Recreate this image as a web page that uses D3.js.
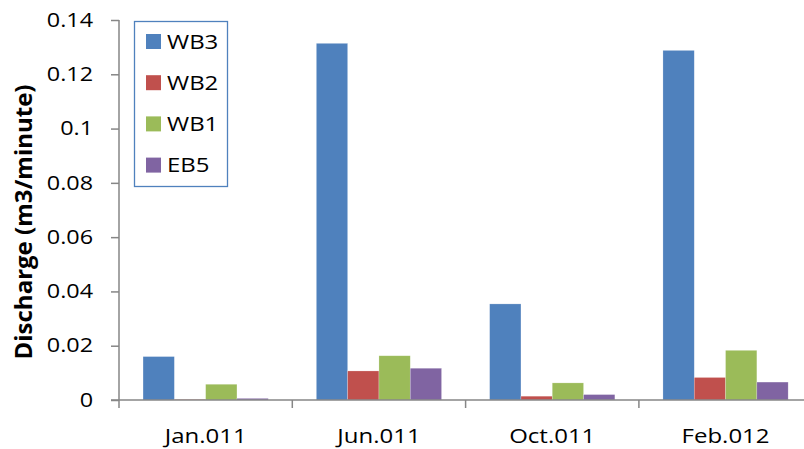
<!DOCTYPE html>
<html>
<head>
<meta charset="utf-8">
<script src="https://cdnjs.cloudflare.com/ajax/libs/d3/7.8.5/d3.min.js"></script>
<style>
  html, body { margin: 0; padding: 0; background: #fff; }
  svg { display: block; }
</style>
</head>
<body>
<div id="chart"></div>
<script>
const categories = ["Jan.011", "Jun.011", "Oct.011", "Feb.012"];
const seriesNames = ["WB3", "WB2", "WB1", "EB5"];
const WB3 = [0.0160, 0.1314, 0.0354, 0.1288];
const WB2 = [0.0002, 0.0107, 0.0014, 0.0083];
const WB1 = [0.0058, 0.0163, 0.0063, 0.0183];
const EB5 = [0.0006, 0.0117, 0.0020, 0.0066];
const seriesValues = [WB3, WB2, WB1, EB5];
const colors = ["#4F81BD", "#C0504D", "#9BBB59", "#8064A2"];
const yTicks = [0, 0.02, 0.04, 0.06, 0.08, 0.1, 0.12, 0.14];
const yTitle = "Discharge (m3/minute)";

const W = 804, H = 449;
const svg = d3.select("#chart").append("svg").attr("width", W).attr("height", H);
const font = "'Open Sans', 'Liberation Sans', sans-serif";
const SX = 1.2;      // horizontal stretch of the text in the original picture
const FS = 19.5;

const x0 = 119, y0 = 400, yTop = 20;
const catW = 173.3;
const x = d3.scaleBand().domain(categories).range([x0, x0 + catW * categories.length]).paddingInner(0).paddingOuter(0);
const y = d3.scaleLinear().domain([0, 0.14]).range([y0, yTop]);

// bars
const barW = 31.3;
const sidePad = (x.bandwidth() - barW * 4) / 2;
const g = svg.append("g");
categories.forEach((c, ci) => {
  seriesNames.forEach((s, si) => {
    const v = seriesValues[si][ci];
    g.append("rect")
      .attr("x", x(c) + sidePad + si * barW)
      .attr("y", y(v))
      .attr("width", barW)
      .attr("height", y0 - y(v))
      .attr("fill", colors[si])
      .attr("stroke", "rgba(255,255,255,0.35)")
      .attr("stroke-width", 0.6);
  });
});

// y axis
const yAxis = d3.axisLeft(y).tickValues(yTicks).tickSize(8).tickPadding(10)
  .tickFormat(d => d === 0 ? "0" : String(+d.toFixed(2)));
const ya = svg.append("g").attr("transform", `translate(${x0},0)`).call(yAxis);
ya.select(".domain").attr("stroke", "#868686").attr("stroke-width", 1.5).attr("d", `M0,${yTop}V${y0}`);
ya.selectAll(".tick line").attr("stroke", "#868686").attr("stroke-width", 1.5);
ya.selectAll(".tick text").attr("font-family", font).attr("font-size", FS).attr("fill", "#000")
  .attr("x", -26 / SX).attr("transform", `scale(${SX},1)`);

// x axis
const xa = svg.append("g").attr("transform", `translate(0,${y0})`);
xa.append("line").attr("x1", x0 - 8).attr("x2", W).attr("y1", 0).attr("y2", 0)
  .attr("stroke", "#868686").attr("stroke-width", 1.5);
categories.forEach((c, i) => {
  xa.append("line").attr("x1", x(c)).attr("x2", x(c)).attr("y1", 0).attr("y2", 8)
    .attr("stroke", "#868686").attr("stroke-width", 1.5);
  xa.append("text")
    .attr("transform", `translate(${x(c) + x.bandwidth() / 2},43) scale(${SX},1)`)
    .attr("text-anchor", "middle").attr("font-family", font).attr("font-size", FS + 0.5)
    .attr("fill", "#000").text(c);
});

// y title
svg.append("text")
  .attr("transform", `translate(32,${(yTop + y0) / 2 + 12}) rotate(-90)`)
  .attr("text-anchor", "middle").attr("font-family", font).attr("font-weight", "bold")
  .attr("font-size", 24).attr("fill", "#000").text(yTitle);

// legend
const lg = svg.append("g");
lg.append("rect").attr("x", 134.5).attr("y", 21.5).attr("width", 93).attr("height", 165)
  .attr("fill", "#fff").attr("stroke", "#4F81BD").attr("stroke-width", 1.3);
seriesNames.forEach((s, i) => {
  const cy = 41.5 + i * 41.2;
  lg.append("rect").attr("x", 146).attr("y", cy - 7.5).attr("width", 15).attr("height", 15).attr("fill", colors[i]);
  lg.append("text")
    .attr("transform", `translate(167,${cy + 7}) scale(${SX + 0.03},1)`)
    .attr("font-family", font).attr("font-size", FS).attr("fill", "#000").text(s);
});
</script>
</body>
</html>
